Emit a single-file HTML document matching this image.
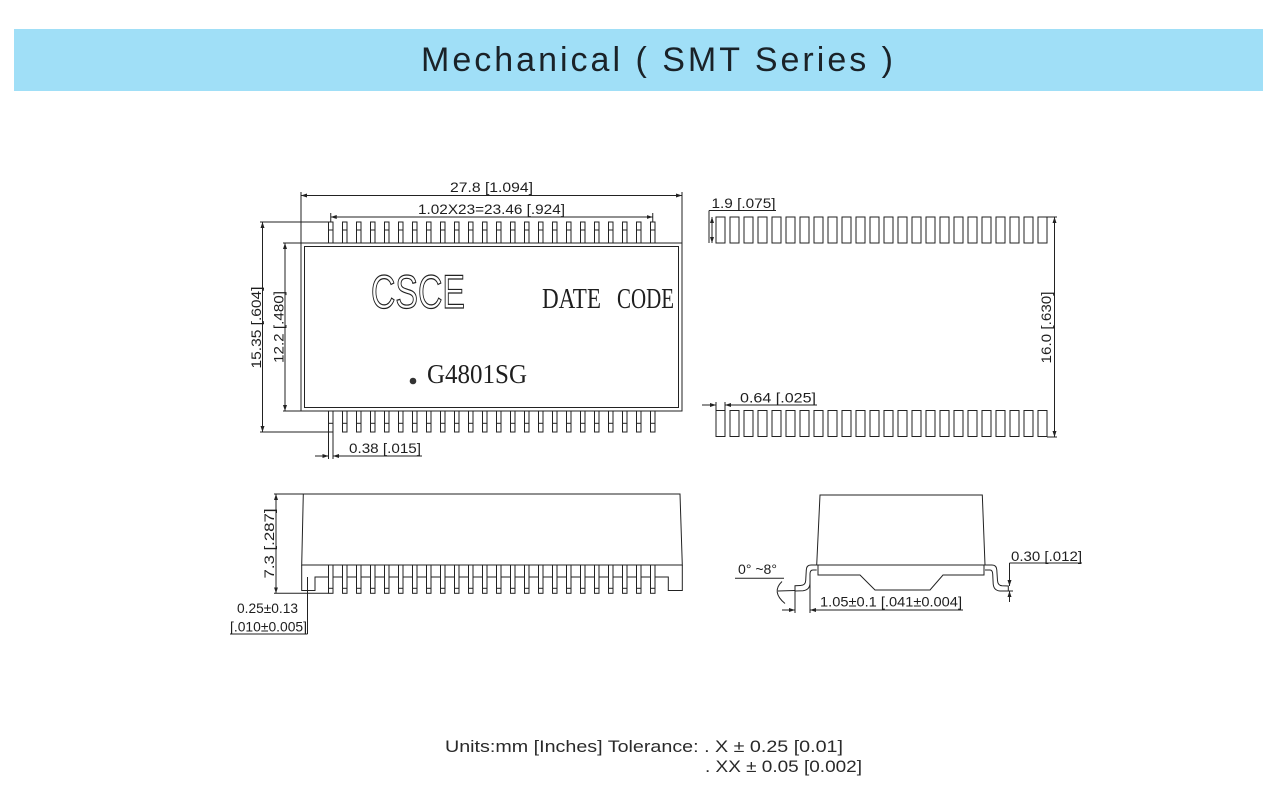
<!DOCTYPE html>
<html><head><meta charset="utf-8"><style>
html,body{margin:0;padding:0;background:#fff;}
svg{display:block;}
text{font-family:"Liberation Sans",sans-serif;fill:#1e1e1e;}
.d{font-size:13.5px;}
.s{font-family:"Liberation Serif",serif;}
</style></head><body>
<svg width="1263" height="799" viewBox="0 0 1263 799" xmlns="http://www.w3.org/2000/svg">
<defs>
<marker id="ar" viewBox="0 0 6 4" refX="6" refY="2" markerWidth="6" markerHeight="4" markerUnits="userSpaceOnUse" orient="auto-start-reverse"><path d="M0,0 L6,2 L0,4 z" fill="#222"/></marker>
<g id="pt" fill="none" stroke="#222" stroke-width="1"><rect x="0" y="0" width="4.5" height="21"/><line x1="0" y1="8" x2="4.5" y2="8"/></g>
<g id="pb" fill="none" stroke="#222" stroke-width="1"><rect x="0" y="0" width="4.5" height="21"/><line x1="0" y1="12.3" x2="4.5" y2="12.3"/></g>
<g id="pd" fill="none" stroke="#222" stroke-width="1"><rect x="0" y="0" width="9" height="26"/></g>
<g id="ps" fill="none" stroke="#222" stroke-width="1"><rect x="0" y="0" width="4.5" height="28.3"/><line x1="0" y1="23.3" x2="4.5" y2="23.3"/><line x1="4.5" y1="12" x2="14" y2="12"/></g>
</defs>
<rect x="0" y="0" width="1263" height="799" fill="#fff"/>
<rect x="14" y="29" width="1249" height="62" fill="#a0dff7"/>
<text x="657" y="71" font-size="34" text-anchor="middle" textLength="472" lengthAdjust="spacing" style="fill:#1a2228">Mechanical ( SMT  Series )</text>

<g fill="none" stroke="#222" stroke-width="1">
<line x1="301" y1="192" x2="301" y2="243"/>
<line x1="682" y1="192" x2="682" y2="243"/>
<line x1="301" y1="195.5" x2="682" y2="195.5" marker-start="url(#ar)" marker-end="url(#ar)"/>
<line x1="330.75" y1="213" x2="330.75" y2="222"/>
<line x1="652.75" y1="213" x2="652.75" y2="222"/>
<line x1="330.75" y1="217" x2="652.75" y2="217" marker-start="url(#ar)" marker-end="url(#ar)"/>
<rect x="301" y="243" width="381" height="168"/>
<rect x="304.5" y="246.5" width="374" height="161"/>
<line x1="283" y1="243" x2="301" y2="243"/>
<line x1="283" y1="411" x2="301" y2="411"/>
<line x1="285" y1="243" x2="285" y2="411" marker-start="url(#ar)" marker-end="url(#ar)"/>
<line x1="260" y1="222" x2="328.5" y2="222"/>
<line x1="260" y1="432" x2="328.5" y2="432"/>
<line x1="262.5" y1="222" x2="262.5" y2="432" marker-start="url(#ar)" marker-end="url(#ar)"/>
<line x1="328.5" y1="432" x2="328.5" y2="459"/>
<line x1="333" y1="432" x2="333" y2="459"/>
<line x1="315" y1="456" x2="328.5" y2="456" marker-end="url(#ar)"/>
<line x1="422" y1="456" x2="333" y2="456" marker-end="url(#ar)"/>

<line x1="709" y1="210.5" x2="776" y2="210.5"/>
<line x1="709" y1="210.5" x2="709" y2="243"/>
<line x1="712" y1="217" x2="712" y2="243" marker-start="url(#ar)" marker-end="url(#ar)"/>
<line x1="716" y1="402" x2="716" y2="410.5"/>
<line x1="725" y1="402" x2="725" y2="410.5"/>
<line x1="702" y1="405" x2="716" y2="405" marker-end="url(#ar)"/>
<line x1="817" y1="405" x2="725" y2="405" marker-end="url(#ar)"/>
<line x1="1047" y1="217" x2="1057" y2="217"/>
<line x1="1047" y1="437" x2="1057" y2="437"/>
<line x1="1054.5" y1="217" x2="1054.5" y2="437" marker-start="url(#ar)" marker-end="url(#ar)"/>

<path d="M303.3,494 L680,494 L682.3,565 L301.7,565 Z"/>
<path d="M301.7,565 L301.7,590.5 L315,590.5 L315,577 L328.5,577"/>
<path d="M655,577 L668.3,577 L668.3,590.5 L682.3,590.5 L682.3,565"/>
<line x1="274" y1="494" x2="303" y2="494"/>
<line x1="274" y1="593.3" x2="328.5" y2="593.3"/>
<line x1="276" y1="494" x2="276" y2="593.3" marker-start="url(#ar)" marker-end="url(#ar)"/>
<line x1="307.5" y1="577" x2="307.5" y2="634"/>
<line x1="230" y1="634" x2="307.5" y2="634"/>

<path d="M820,495 L982.3,495 L985,565 L816.7,565 Z"/>
<path d="M818,565 L818,575 L860,575 L875,590 L930,590 L943,575 L984,575 L984,565"/>
<path d="M816.7,565 L811,565 Q806.5,565 806.3,570 L805.7,580.5 Q805.5,585.3 800.5,585.5 L795,585.7 L795,591 L803,590.7 Q809.8,590 810,583 L810,574 Q810,570 813,570 L816.7,570"/>
<path d="M985,565 L992,565 Q996.5,565 996.8,570 L997.5,580.5 Q997.8,585.5 1002,585.8 L1008.3,586 L1008.3,591 L1000,591 Q993.8,590.5 993.2,584 L992.7,574 Q992.5,570 990,570 L985,570"/>
<line x1="1009.5" y1="563" x2="1082" y2="563"/>
<line x1="1009.5" y1="563" x2="1009.5" y2="586" marker-end="url(#ar)"/>
<line x1="1009.5" y1="602" x2="1009.5" y2="591" marker-end="url(#ar)"/>
<line x1="1007" y1="591" x2="1013" y2="591"/>
<line x1="735" y1="578.3" x2="784" y2="578.3"/>
<path d="M782,581.5 Q771,592 785,603.5"/>
<line x1="778" y1="591" x2="795" y2="590.5"/>
<line x1="795" y1="591" x2="795" y2="613"/>
<line x1="810" y1="583" x2="810" y2="613"/>
<line x1="782" y1="610" x2="795" y2="610" marker-end="url(#ar)"/>
<line x1="963" y1="610" x2="810" y2="610" marker-end="url(#ar)"/>
</g>

<use href="#pt" x="328.5" y="222"/><use href="#pt" x="342.5" y="222"/><use href="#pt" x="356.5" y="222"/><use href="#pt" x="370.5" y="222"/><use href="#pt" x="384.5" y="222"/><use href="#pt" x="398.5" y="222"/><use href="#pt" x="412.5" y="222"/><use href="#pt" x="426.5" y="222"/><use href="#pt" x="440.5" y="222"/><use href="#pt" x="454.5" y="222"/><use href="#pt" x="468.5" y="222"/><use href="#pt" x="482.5" y="222"/><use href="#pt" x="496.5" y="222"/><use href="#pt" x="510.5" y="222"/><use href="#pt" x="524.5" y="222"/><use href="#pt" x="538.5" y="222"/><use href="#pt" x="552.5" y="222"/><use href="#pt" x="566.5" y="222"/><use href="#pt" x="580.5" y="222"/><use href="#pt" x="594.5" y="222"/><use href="#pt" x="608.5" y="222"/><use href="#pt" x="622.5" y="222"/><use href="#pt" x="636.5" y="222"/><use href="#pt" x="650.5" y="222"/>
<use href="#pb" x="328.5" y="411"/><use href="#pb" x="342.5" y="411"/><use href="#pb" x="356.5" y="411"/><use href="#pb" x="370.5" y="411"/><use href="#pb" x="384.5" y="411"/><use href="#pb" x="398.5" y="411"/><use href="#pb" x="412.5" y="411"/><use href="#pb" x="426.5" y="411"/><use href="#pb" x="440.5" y="411"/><use href="#pb" x="454.5" y="411"/><use href="#pb" x="468.5" y="411"/><use href="#pb" x="482.5" y="411"/><use href="#pb" x="496.5" y="411"/><use href="#pb" x="510.5" y="411"/><use href="#pb" x="524.5" y="411"/><use href="#pb" x="538.5" y="411"/><use href="#pb" x="552.5" y="411"/><use href="#pb" x="566.5" y="411"/><use href="#pb" x="580.5" y="411"/><use href="#pb" x="594.5" y="411"/><use href="#pb" x="608.5" y="411"/><use href="#pb" x="622.5" y="411"/><use href="#pb" x="636.5" y="411"/><use href="#pb" x="650.5" y="411"/>
<use href="#pd" x="716" y="217"/><use href="#pd" x="730" y="217"/><use href="#pd" x="744" y="217"/><use href="#pd" x="758" y="217"/><use href="#pd" x="772" y="217"/><use href="#pd" x="786" y="217"/><use href="#pd" x="800" y="217"/><use href="#pd" x="814" y="217"/><use href="#pd" x="828" y="217"/><use href="#pd" x="842" y="217"/><use href="#pd" x="856" y="217"/><use href="#pd" x="870" y="217"/><use href="#pd" x="884" y="217"/><use href="#pd" x="898" y="217"/><use href="#pd" x="912" y="217"/><use href="#pd" x="926" y="217"/><use href="#pd" x="940" y="217"/><use href="#pd" x="954" y="217"/><use href="#pd" x="968" y="217"/><use href="#pd" x="982" y="217"/><use href="#pd" x="996" y="217"/><use href="#pd" x="1010" y="217"/><use href="#pd" x="1024" y="217"/><use href="#pd" x="1038" y="217"/>
<use href="#pd" x="716" y="410.5"/><use href="#pd" x="730" y="410.5"/><use href="#pd" x="744" y="410.5"/><use href="#pd" x="758" y="410.5"/><use href="#pd" x="772" y="410.5"/><use href="#pd" x="786" y="410.5"/><use href="#pd" x="800" y="410.5"/><use href="#pd" x="814" y="410.5"/><use href="#pd" x="828" y="410.5"/><use href="#pd" x="842" y="410.5"/><use href="#pd" x="856" y="410.5"/><use href="#pd" x="870" y="410.5"/><use href="#pd" x="884" y="410.5"/><use href="#pd" x="898" y="410.5"/><use href="#pd" x="912" y="410.5"/><use href="#pd" x="926" y="410.5"/><use href="#pd" x="940" y="410.5"/><use href="#pd" x="954" y="410.5"/><use href="#pd" x="968" y="410.5"/><use href="#pd" x="982" y="410.5"/><use href="#pd" x="996" y="410.5"/><use href="#pd" x="1010" y="410.5"/><use href="#pd" x="1024" y="410.5"/><use href="#pd" x="1038" y="410.5"/>
<use href="#ps" x="328.5" y="565"/><use href="#ps" x="342.5" y="565"/><use href="#ps" x="356.5" y="565"/><use href="#ps" x="370.5" y="565"/><use href="#ps" x="384.5" y="565"/><use href="#ps" x="398.5" y="565"/><use href="#ps" x="412.5" y="565"/><use href="#ps" x="426.5" y="565"/><use href="#ps" x="440.5" y="565"/><use href="#ps" x="454.5" y="565"/><use href="#ps" x="468.5" y="565"/><use href="#ps" x="482.5" y="565"/><use href="#ps" x="496.5" y="565"/><use href="#ps" x="510.5" y="565"/><use href="#ps" x="524.5" y="565"/><use href="#ps" x="538.5" y="565"/><use href="#ps" x="552.5" y="565"/><use href="#ps" x="566.5" y="565"/><use href="#ps" x="580.5" y="565"/><use href="#ps" x="594.5" y="565"/><use href="#ps" x="608.5" y="565"/><use href="#ps" x="622.5" y="565"/><use href="#ps" x="636.5" y="565"/><use href="#ps" x="650.5" y="565"/>

<text class="d" x="450" y="192" textLength="83" lengthAdjust="spacingAndGlyphs">27.8 [1.094]</text>
<text class="d" x="418" y="214" textLength="147" lengthAdjust="spacingAndGlyphs">1.02X23=23.46 [.924]</text>
<text class="d" transform="translate(261,327.5) rotate(-90)" text-anchor="middle" textLength="82" lengthAdjust="spacingAndGlyphs">15.35 [.604]</text>
<text class="d" transform="translate(283.5,327) rotate(-90)" text-anchor="middle" textLength="72" lengthAdjust="spacingAndGlyphs">12.2 [.480]</text>
<text class="d" x="349" y="453" textLength="72" lengthAdjust="spacingAndGlyphs">0.38 [.015]</text>
<text x="371" y="308" font-size="47" textLength="94" lengthAdjust="spacingAndGlyphs" style="fill:#fff;stroke:#222;stroke-width:1.2">CSCE</text>
<text class="s" x="542" y="308" font-size="29" textLength="59" lengthAdjust="spacingAndGlyphs">DATE</text>
<text class="s" x="617" y="308" font-size="29" textLength="57" lengthAdjust="spacingAndGlyphs">CODE</text>
<circle cx="413" cy="381" r="3.3" fill="#333"/>
<text class="s" x="427" y="383" font-size="27" textLength="100" lengthAdjust="spacingAndGlyphs">G4801SG</text>

<text class="d" x="711.5" y="208" textLength="64" lengthAdjust="spacingAndGlyphs">1.9 [.075]</text>
<text class="d" x="740" y="402.5" textLength="76" lengthAdjust="spacingAndGlyphs">0.64 [.025]</text>
<text class="d" transform="translate(1051,327.5) rotate(-90)" text-anchor="middle" textLength="72" lengthAdjust="spacingAndGlyphs">16.0 [.630]</text>

<text class="d" transform="translate(274,543.5) rotate(-90)" text-anchor="middle" textLength="70" lengthAdjust="spacingAndGlyphs">7.3 [.287]</text>
<text class="d" x="237" y="613" textLength="61" lengthAdjust="spacingAndGlyphs">0.25±0.13</text>
<text class="d" x="230" y="631.5" textLength="77" lengthAdjust="spacingAndGlyphs">[.010±0.005]</text>

<text class="d" x="1011" y="561" textLength="71" lengthAdjust="spacingAndGlyphs">0.30 [.012]</text>
<text class="d" x="738" y="574" textLength="39" lengthAdjust="spacingAndGlyphs">0° ~8°</text>
<text class="d" x="820" y="606.5" textLength="142" lengthAdjust="spacingAndGlyphs">1.05±0.1 [.041±0.004]</text>

<text x="445" y="752" font-size="16.5" textLength="398" lengthAdjust="spacingAndGlyphs" style="fill:#2a2a2a">Units:mm [Inches] Tolerance: . X  ± 0.25 [0.01]</text>
<text x="705" y="772" font-size="16.5" textLength="157" lengthAdjust="spacingAndGlyphs" style="fill:#2a2a2a">. XX  ± 0.05 [0.002]</text>
</svg>
</body></html>
